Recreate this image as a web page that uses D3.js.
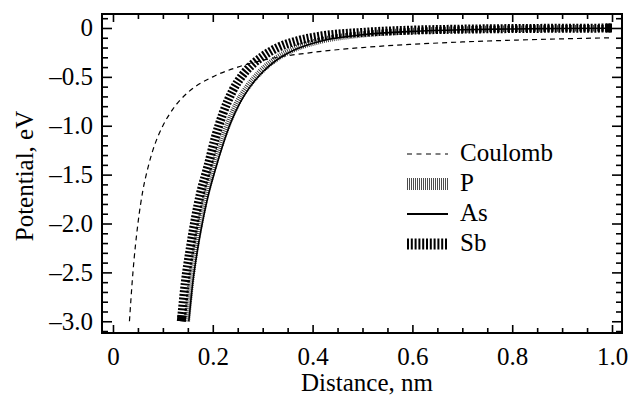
<!DOCTYPE html>
<html>
<head>
<meta charset="utf-8">
<script src="https://cdn.jsdelivr.net/npm/d3@7"></script>
<style>
  body { margin: 0; background: #fff; }
  svg text { font-family: "Liberation Serif", "Times New Roman", serif; fill: #000; }
</style>
</head>
<body>
<svg id="svg"></svg>
<script>
// values (distance nm, potential eV)
let coulomb = [[0.033,-3.0],[0.04,-2.5],[0.05,-2.0],[0.06,-1.66],[0.07,-1.43],[0.08,-1.25],
  [0.09,-1.11],[0.1,-1.0],[0.12,-0.83],[0.15,-0.66],[0.2,-0.5],[0.25,-0.4],[0.3,-0.33],
  [0.4,-0.25],[0.5,-0.2],[0.6,-0.167],[0.7,-0.143],[0.8,-0.125],[0.9,-0.111],[1.0,-0.1]];
let sb = [[0.137,-3.0],[0.145,-2.6],[0.155,-2.25],[0.165,-1.95],[0.175,-1.7],[0.19,-1.42],
  [0.205,-1.12],[0.22,-0.88],[0.24,-0.64],[0.26,-0.48],[0.28,-0.37],[0.3,-0.29],[0.33,-0.2],
  [0.37,-0.13],[0.42,-0.08],[0.5,-0.045],[0.6,-0.022],[0.7,-0.012],[0.8,-0.006],[0.9,-0.003],[1.0,-0.001]];
let as = [[0.152,-3.0],[0.16,-2.6],[0.17,-2.25],[0.18,-1.97],[0.19,-1.73],[0.205,-1.45],
  [0.22,-1.2],[0.235,-0.98],[0.255,-0.76],[0.275,-0.6],[0.3,-0.45],[0.33,-0.32],[0.37,-0.21],
  [0.42,-0.13],[0.5,-0.07],[0.6,-0.035],[0.7,-0.018],[0.8,-0.01],[0.9,-0.005],[1.0,-0.002]];
let p = [[0.148,-3.0],[0.156,-2.6],[0.165,-2.27],[0.175,-1.98],[0.185,-1.74],[0.2,-1.45],
  [0.215,-1.2],[0.23,-0.99],[0.25,-0.76],[0.27,-0.6],[0.295,-0.45],[0.325,-0.32],[0.365,-0.21],
  [0.415,-0.13],[0.5,-0.065],[0.6,-0.032],[0.7,-0.016],[0.8,-0.008],[0.9,-0.004],[1.0,-0.002]];

let xTicks = [0, 0.2, 0.4, 0.6, 0.8, 1.0];
let xTickLabels = ["0", "0.2", "0.4", "0.6", "0.8", "1.0"];
let yTicks = [0, -0.5, -1.0, -1.5, -2.0, -2.5, -3.0];
let yTickLabels = ["0", "\u20130.5", "\u20131.0", "\u20131.5", "\u20132.0", "\u20132.5", "\u20133.0"];
let legendNames = ["Coulomb", "P", "As", "Sb"];

function sketch() {
    console.log("sketching potential");

    let width = 639, height = 400;
    let svg = d3.select("#svg").attr("width", width).attr("height", height);

    let left = 102, right = 622, top = 14, bottom = 333;
    let x = d3.scaleLinear().domain([-0.022, 1.02]).range([left, right]);
    let y = d3.scaleLinear().domain([-3.12, 0.143]).range([bottom, top]);
    let fontSize = "25px";
    let serif = "Liberation Serif";

    let line = d3.line().x((d) => x(d[0])).y((d) => y(d[1])).curve(d3.curveMonotoneX);

    // minor ticks
    let xMinor = d3.range(0, 1.0001, 0.05).filter((v) => Math.abs(v * 5 - Math.round(v * 5)) > 1e-6);
    let yMinor = d3.range(-3.1, 0.101, 0.1).filter((v) => Math.abs(v * 2 - Math.round(v * 2)) > 1e-6);

    let axes = [
        [d3.axisBottom, x, `translate(0,${bottom})`, xTicks, xMinor],
        [d3.axisTop, x, `translate(0,${top})`, xTicks, xMinor],
        [d3.axisLeft, y, `translate(${left},0)`, yTicks, yMinor],
        [d3.axisRight, y, `translate(${right},0)`, yTicks, yMinor]
    ];
    axes.forEach((a, i) => {
        let gMaj = svg.append("g").attr("transform", a[2])
            .call(a[0](a[1]).tickValues(a[3]).tickSize(i < 2 ? -8 : -10).tickFormat(""));
        gMaj.select(".domain").remove();
        gMaj.selectAll("line").attr("stroke", "#000").attr("stroke-width", 1.6);
        let gMin = svg.append("g").attr("transform", a[2])
            .call(a[0](a[1]).tickValues(a[4]).tickSize(i < 2 ? -5 : -6).tickFormat(""));
        gMin.select(".domain").remove();
        gMin.selectAll("line").attr("stroke", "#000").attr("stroke-width", 1.6);
    });

    // tick labels
    let gx = svg.append("g").attr("transform", `translate(0,${bottom})`)
        .call(d3.axisBottom(x).tickValues(xTicks).tickSize(0).tickPadding(14)
              .tickFormat((d, i) => xTickLabels[i]));
    gx.select(".domain").remove();
    gx.attr("font-family", serif).attr("font-size", fontSize);
    gx.selectAll("text").style("font-family", serif);

    let gy = svg.append("g").attr("transform", `translate(${left},0)`)
        .call(d3.axisLeft(y).tickValues(yTicks).tickSize(0).tickPadding(9)
              .tickFormat((d, i) => yTickLabels[i]));
    gy.select(".domain").remove();
    gy.attr("font-family", serif).attr("font-size", fontSize);
    gy.selectAll("text").style("font-family", serif);

    // curves
    let g = svg.append("g");
    g.append("path").datum(coulomb).attr("d", line)
        .attr("fill", "none").attr("stroke", "#000").attr("stroke-width", 1.2)
        .attr("stroke-dasharray", "5,4");
    g.append("path").datum(p).attr("d", line)
        .attr("fill", "none").attr("stroke", "#222").attr("stroke-width", 6.5)
        .attr("stroke-dasharray", "0.8,1.2");
    g.append("path").datum(as).attr("d", line)
        .attr("fill", "none").attr("stroke", "#000").attr("stroke-width", 1.6);
    let sbPath = g.append("path").datum(sb).attr("d", line)
        .attr("fill", "none").attr("stroke", "#000").attr("stroke-width", 9)
        .attr("stroke-dasharray", "2,1.6");

    // solid ends of the Sb curve
    let node = sbPath.node();
    let len = node.getTotalLength();
    [[0, 6], [len - 6, len]].forEach((seg) => {
        let a = node.getPointAtLength(seg[0]), b = node.getPointAtLength(seg[1]);
        g.append("line").attr("x1", a.x).attr("y1", a.y).attr("x2", b.x).attr("y2", b.y)
            .attr("stroke", "#000").attr("stroke-width", 9);
    });

    // frame
    svg.append("rect").attr("x", x(-0.022)).attr("y", y(0.143))
        .attr("width", x(1.02) - x(-0.022)).attr("height", y(-3.12) - y(0.143))
        .attr("fill", "none").attr("stroke", "#000").attr("stroke-width", 2);

    // legend
    let legendStyles = [
        {w: 1.2, dash: "5,4.5", c: "#000"},
        {w: 12, dash: "0.8,1.2", c: "#222"},
        {w: 1.8, dash: null, c: "#000"},
        {w: 11, dash: "2,1.8", c: "#000"}
    ];
    let legend = svg.append("g");
    legendNames.forEach((name, i) => {
        let by = 161 + i * 30;
        let s = legendStyles[i];
        legend.append("line").attr("x1", 407).attr("x2", 448)
            .attr("y1", by - 7).attr("y2", by - 7)
            .attr("stroke", s.c).attr("stroke-width", s.w)
            .attr("stroke-dasharray", s.dash);
        legend.append("text").attr("x", 460).attr("y", by)
            .style("font-family", serif).style("font-size", fontSize).text(name);
    });

    // axis titles
    svg.append("text").attr("x", (left + right) / 2 + 5).attr("y", 391)
        .attr("text-anchor", "middle").style("font-family", serif)
        .style("font-size", fontSize).text("Distance, nm");
    svg.append("text").attr("transform", "translate(33,176) rotate(-90)")
        .attr("text-anchor", "middle").style("font-family", serif)
        .style("font-size", fontSize).text("Potential, eV");
}
sketch();
</script>
</body>
</html>
